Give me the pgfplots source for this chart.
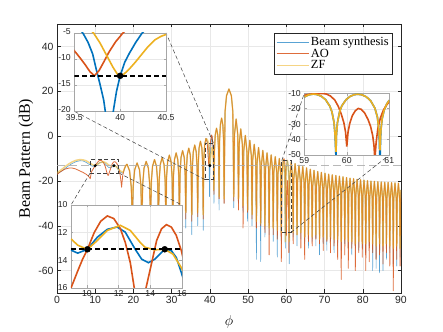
\documentclass[border=0pt]{standalone}
\usepackage{fontspec}
\setmainfont{Liberation Serif}
\setsansfont{Liberation Sans}
\usepackage{pgfplots}
\usepackage{pgfplotstable}
\pgfplotsset{compat=1.18}

\definecolor{mblue}{rgb}{0,0.447,0.741}
\definecolor{mred}{rgb}{0.85,0.325,0.098}
\definecolor{myel}{rgb}{0.929,0.694,0.125}
\definecolor{frame}{gray}{0.15}

% beam pattern from 18.3 deg on: phi, beam synthesis, AO, ZF
\pgfplotstableread{
x b r z
18.30 -12.5 -12.5 -12.5
18.99 -15.5 -15.5 -15.5
19.42 -22.5 -22.5 -22.5
19.70 -42 -36 -34
19.95 -22 -22 -22
20.33 -15 -15 -15
20.95 -12 -12 -12
21.58 -15 -15 -15
21.95 -22 -22 -22
22.20 -45 -40 -37
22.43 -21.3 -21.3 -21.3
22.77 -14.3 -14.3 -14.3
23.335 -11.3 -11.3 -11.3
23.90 -14.3 -14.3 -14.3
24.24 -21.3 -21.3 -21.3
24.47 -38 -44 -35
24.68 -20.5 -20.5 -20.5
24.99 -13.5 -13.5 -13.5
25.51 -10.5 -10.5 -10.5
26.03 -13.5 -13.5 -13.5
26.34 -20.5 -20.5 -20.5
26.55 -47 -38 -36
26.74 -19.6 -19.6 -19.6
27.03 -12.6 -12.6 -12.6
27.515 -9.6 -9.6 -9.6
28.00 -12.6 -12.6 -12.6
28.29 -19.6 -19.6 -19.6
28.48 -40 -46 -35
28.66 -18.5 -18.5 -18.5
28.94 -11.5 -11.5 -11.5
29.395 -8.5 -8.5 -8.5
29.85 -11.5 -11.5 -11.5
30.13 -18.5 -18.5 -18.5
30.31 -44 -39 -37
30.48 -17.5 -17.5 -17.5
30.74 -10.5 -10.5 -10.5
31.17 -7.5 -7.5 -7.5
31.60 -10.5 -10.5 -10.5
31.86 -17.5 -17.5 -17.5
32.03 -39 -42 -34
32.20 -16.5 -16.5 -16.5
32.45 -9.5 -9.5 -9.5
32.86 -6.5 -6.5 -6.5
33.28 -9.5 -9.5 -9.5
33.52 -16.5 -16.5 -16.5
33.69 -41 -37 -34
33.85 -15.4 -15.4 -15.4
34.08 -8.4 -8.4 -8.4
34.475 -5.4 -5.4 -5.4
34.87 -8.4 -8.4 -8.4
35.10 -15.4 -15.4 -15.4
35.26 -44 -38 -35
35.42 -14 -14 -14
35.65 -7 -7 -7
36.035 -4 -4 -4
36.42 -7 -7 -7
36.65 -14 -14 -14
36.81 -40 -36 -34
36.96 -12.3 -12.3 -12.3
37.17 -5.3 -5.3 -5.3
37.535 -2.3 -2.3 -2.3
37.90 -5.3 -5.3 -5.3
38.11 -12.3 -12.3 -12.3
38.26 -42 -37 -35
38.40 -11 -11 -11
38.62 -4 -4 -4
38.98 -1 -1 -1.2
39.30 -2.2 -3.0 -1.5
39.50 -3.5 -8.4 -2.5
39.60 -5.0 -10.3 -3.3
39.72 -10.0 -13.2 -5.3
39.78 -13.2 -12.3 -6.8
39.86 -20 -10.0 -9.6
39.89 -27 -9.2 -10.5
39.92 -20 -8.3 -11.5
40.00 -13.2 -5.0 -13.2
40.10 -8.8 -3.2 -11.6
40.25 -5.0 -1.5 -8.6
40.45 0.3 0.5 -5.6
40.60 -0.5 -0.3 -5.0
40.80 -4 -4 -7.5
40.95 -11 -11 -13
41.06 -30 -26 -24
41.195 -6.5 -6.5 -6.5
41.40 0.5 0.5 0.5
41.735 3.5 3.5 3.5
42.07 0.5 0.5 0.5
42.275 -6.5 -6.5 -6.5
42.41 -33 -28 -27
42.54 -2 -2 -2
42.74 5 5 5
43.065 8 8 8
43.39 5 5 5
43.59 -2 -2 -2
43.72 -30 -30 -28
43.97 11 11 11
44.35 18 18 18
44.985 21 21 21
45.62 18 18 18
46.00 11 11 11
46.25 -32 -29 -27
46.43 0.6 0.6 0.6
46.865 7.6 7.6 7.6
47.30 0.6 0.6 0.6
47.48 -30 -33 -28
47.66 -3.8 -3.8 -3.8
48.08 3.2 3.2 3.2
48.50 -3.8 -3.8 -3.8
48.68 -34 -41 -31
48.86 -6.7 -6.7 -6.7
49.27 0.3 0.3 0.3
49.68 -6.7 -6.7 -6.7
49.86 -38 -34 -33
50.04 -8.9 -8.9 -8.9
50.445 -1.9 -1.9 -1.9
50.85 -8.9 -8.9 -8.9
51.03 -40 -37 -35
51.20 -10.7 -10.7 -10.7
51.60 -3.7 -3.7 -3.7
52.00 -10.7 -10.7 -10.7
52.17 -55 -41 -38
52.34 -12.1 -12.1 -12.1
52.73 -5.1 -5.1 -5.1
53.12 -12.1 -12.1 -12.1
53.29 -56 -40 -39
53.46 -13.4 -13.4 -13.4
53.845 -6.4 -6.4 -6.4
54.23 -13.4 -13.4 -13.4
54.40 -45 -43 -40
54.565 -14.5 -14.5 -14.5
54.95 -7.5 -7.5 -7.5
55.335 -14.5 -14.5 -14.5
55.50 -44 -53 -41
55.66 -15.4 -15.4 -15.4
56.035 -8.4 -8.4 -8.4
56.41 -15.4 -15.4 -15.4
56.57 -47 -44 -41
56.73 -16.2 -16.2 -16.2
57.105 -9.2 -9.2 -9.2
57.48 -16.2 -16.2 -16.2
57.64 -54 -46 -42
57.80 -17 -17 -17
58.165 -10 -10 -10
58.53 -17 -17 -17
58.69 -48 -56 -43
58.85 -17.5 -17.5 -17.5
59.20 -10.6 -10.4 -10.6
59.42 -12.2 -10.1 -12.2
59.58 -17.8 -11.4 -17.8
59.74 -50 -14.5 -47
59.90 -17.5 -24 -17.5
60.00 -14.2 -44.5 -14.2
60.26 -10.8 -19.8 -10.8
60.50 -13.2 -27 -13.2
60.62 -17.5 -38 -17.5
60.66 -19.6 -52 -19.6
60.77 -57 -24.5 -47
60.92 -18.5 -18 -18.5
61.28 -11.5 -11.5 -11.5
61.64 -18.5 -18.5 -18.5
61.79 -45 -48 -43
61.94 -19.3 -19.3 -19.3
62.295 -12.3 -12.3 -12.3
62.65 -19.3 -19.3 -19.3
62.80 -49 -44 -44
62.95 -20 -20 -20
63.30 -13 -13 -13
63.65 -20 -20 -20
63.80 -46 -50 -43
63.95 -20.6 -20.6 -20.6
64.30 -13.6 -13.6 -13.6
64.65 -20.6 -20.6 -20.6
64.80 -48 -55 -45
64.95 -21.2 -21.2 -21.2
65.29 -14.2 -14.2 -14.2
65.63 -21.2 -21.2 -21.2
65.78 -50 -47 -44
65.93 -21.8 -21.8 -21.8
66.27 -14.8 -14.8 -14.8
66.61 -21.8 -21.8 -21.8
66.76 -47 -49 -45
66.91 -22.3 -22.3 -22.3
67.245 -15.3 -15.3 -15.3
67.58 -22.3 -22.3 -22.3
67.73 -49 -46 -44
67.87 -22.8 -22.8 -22.8
68.21 -15.8 -15.8 -15.8
68.55 -22.8 -22.8 -22.8
68.69 -53 -48 -46
68.83 -23.2 -23.2 -23.2
69.17 -16.2 -16.2 -16.2
69.51 -23.2 -23.2 -23.2
69.65 -48 -51 -45
69.79 -23.6 -23.6 -23.6
70.125 -16.6 -16.6 -16.6
70.46 -23.6 -23.6 -23.6
70.60 -51 -47 -46
70.74 -24 -24 -24
71.075 -17 -17 -17
71.41 -24 -24 -24
71.55 -47 -52 -45
71.69 -24.3 -24.3 -24.3
72.02 -17.3 -17.3 -17.3
72.35 -24.3 -24.3 -24.3
72.49 -52 -49 -46
72.63 -24.6 -24.6 -24.6
72.96 -17.6 -17.6 -17.6
73.29 -24.6 -24.6 -24.6
73.43 -49 -55 -46
73.57 -24.9 -24.9 -24.9
73.895 -17.9 -17.9 -17.9
74.22 -24.9 -24.9 -24.9
74.36 -51 -64 -47
74.50 -25.2 -25.2 -25.2
74.825 -18.2 -18.2 -18.2
75.15 -25.2 -25.2 -25.2
75.29 -48 -53 -46
75.43 -25.5 -25.5 -25.5
75.75 -18.5 -18.5 -18.5
76.07 -25.5 -25.5 -25.5
76.21 -50 -59 -47
76.35 -25.8 -25.8 -25.8
76.67 -18.8 -18.8 -18.8
76.99 -25.8 -25.8 -25.8
77.13 -53 -50 -47
77.27 -26 -26 -26
77.59 -19 -19 -19
77.91 -26 -26 -26
78.05 -50 -60 -48
78.19 -26.3 -26.3 -26.3
78.505 -19.3 -19.3 -19.3
78.82 -26.3 -26.3 -26.3
78.96 -51 -52 -47
79.10 -26.5 -26.5 -26.5
79.415 -19.5 -19.5 -19.5
79.73 -26.5 -26.5 -26.5
79.87 -50 -54 -48
80.01 -26.7 -26.7 -26.7
80.325 -19.7 -19.7 -19.7
80.64 -26.7 -26.7 -26.7
80.78 -52 -60 -48
80.92 -26.9 -26.9 -26.9
81.235 -19.9 -19.9 -19.9
81.55 -26.9 -26.9 -26.9
81.69 -49 -56 -47
81.83 -27.1 -27.1 -27.1
82.14 -20.1 -20.1 -20.1
82.45 -27.1 -27.1 -27.1
82.59 -60 -52 -48
82.73 -27.2 -27.2 -27.2
83.04 -20.2 -20.2 -20.2
83.35 -27.2 -27.2 -27.2
83.49 -59 -55 -49
83.63 -27.4 -27.4 -27.4
83.94 -20.4 -20.4 -20.4
84.25 -27.4 -27.4 -27.4
84.39 -61 -53 -48
84.53 -27.5 -27.5 -27.5
84.84 -20.5 -20.5 -20.5
85.15 -27.5 -27.5 -27.5
85.29 -60 -57 -49
85.43 -27.6 -27.6 -27.6
85.74 -20.6 -20.6 -20.6
86.05 -27.6 -27.6 -27.6
86.19 -55 -52 -48
86.32 -27.7 -27.7 -27.7
86.635 -20.7 -20.7 -20.7
86.95 -27.7 -27.7 -27.7
87.08 -52 -58 -49
87.21 -27.8 -27.8 -27.8
87.53 -20.8 -20.8 -20.8
87.85 -27.8 -27.8 -27.8
87.98 -57 -69 -50
88.11 -27.9 -27.9 -27.9
88.43 -20.9 -20.9 -20.9
88.75 -27.9 -27.9 -27.9
88.88 -58 -55 -49
89.01 -28 -28 -28
89.325 -21 -21 -21
89.64 -28 -28 -28
89.77 -54 -58 -50
89.90 -28.2 -28.2 -28.2
90.00 -24 -24 -24
}\pattern

\tikzset{
  zoombox/.style={black!75, line width=0.5pt, dash pattern=on 4bp off 2.5bp},
  bs/.style={mblue, line width=0.6bp, opacity=0.65, line join=round},
  ao/.style={mred, line width=0.8bp, opacity=0.85, line join=round},
  zf/.style={myel, line width=1.5bp, opacity=0.55, line join=round},
  ib/.style={mblue, line width=1.6bp},
  ir/.style={mred, line width=1.6bp},
  iz/.style={myel, line width=1.6bp},
  lvl/.style={black, line width=1.6bp, dash pattern=on 5bp off 3bp},
}

\pgfplotsset{
  matlab/.style={
    scale only axis,
    axis background/.style={fill=white},
    grid=major,
    grid style={gray!18, line width=0.4pt},
    axis line style={frame, line width=0.5pt},
    tick style={frame, line width=0.5pt},
    tick align=inside,
    /pgf/number format/assume math mode=true,
    tick label style={font=\sffamily\fontsize{10.5}{12}\selectfont, text=frame},
  },
  inset/.style={
    matlab,
    axis line style={gray!70, line width=0.6pt},
    tick style={gray!70},
    major tick length=2.5bp,
    tick label style={font=\sffamily\fontsize{8.7}{10}\selectfont, text=frame},
    xticklabel style={yshift=1bp},
  },
  dot/.style={only marks, mark=*, mark size=3bp, black},
}

\begin{document}
\begin{tikzpicture}
\path[use as bounding box] (-57bp,-39bp) rectangle (386bp,293bp);

\begin{axis}[
  matlab,
  at={(0bp,0bp)}, anchor=south west,
  width=344bp, height=269bp,
  xmin=0, xmax=90, ymin=-70, ymax=50,
  xtick={0,10,...,90},
  ytick={-60,-40,...,40},
  major tick length=3.5bp,
  xlabel={$\phi$},
  ylabel={Beam Pattern (dB)},
  xlabel style={font=\fontsize{15}{17}\selectfont, at={(axis description cs:0.5,-0.108)}, anchor=center},
  ylabel style={font=\fontsize{16}{18}\selectfont, at={(axis description cs:-0.09,0.5)}, anchor=center},
  legend style={at={(rel axis cs:0.974,0.9665)}, anchor=north east,
    draw=frame, line width=0.5pt, fill=white,
    font=\fontsize{12.5}{14}\selectfont,
    inner xsep=1.5bp, inner ysep=2bp, row sep=-1bp,
    nodes={inner sep=1.5bp}},
  legend cell align=left,
  legend image code/.code={\draw[#1, line cap=butt] (0bp,0bp) -- (32bp,0bp);},
]
\addplot[bs] table[x=x, y=b] {\pattern};
\addlegendentry{Beam synthesis}
\addplot[ao] table[x=x, y=r] {\pattern};
\addlegendentry{AO}
\addplot[zf] table[x=x, y=z] {\pattern};
\addlegendentry{ZF}

% wide lobes below 18.3 deg
\addplot[bs, forget plot] coordinates {
  (0,-16.8) (1,-15.9) (2,-14.6) (3,-13.3) (4,-12.2) (5,-11.4) (6,-11.0)
  (6.8,-11.1) (7.6,-11.7) (8.3,-12.5) (9,-13.25) (9.42,-13.48) (10.04,-13.2)
  (10.66,-12.33) (11.29,-11.76) (11.91,-11.59) (12.42,-11.96) (13.05,-13.2)
  (13.46,-13.92) (13.88,-14.17) (14.29,-13.92) (14.91,-13.2) (15.33,-13.3)
  (15.64,-13.8) (15.96,-14.9) (16.4,-15.8) (16.9,-16.4) (17.3,-16.6)
  (17.6,-15.0) (17.9,-13.6) (18.3,-12.5)};
\addplot[ao, forget plot] coordinates {
  (0,-17.1) (1,-15.8) (2,-14.8) (3,-14.3) (3.8,-14.2) (4.8,-14.6) (5.8,-15.4)
  (6.8,-16.2) (7.6,-17.0) (8.2,-17.8) (8.7,-19.0) (9.0,-16.0) (9.42,-14.78)
  (9.73,-13.92) (10.04,-13.2) (10.46,-12.0) (10.87,-11.18) (11.29,-10.79)
  (11.7,-10.98) (12.11,-11.7) (12.42,-12.7) (12.74,-14.17) (12.99,-16.0)
  (13.2,-17.0) (13.37,-17.6) (13.55,-17.0) (13.73,-16.0) (14.09,-14.17)
  (14.4,-12.57) (14.71,-11.72) (15.02,-11.42) (15.33,-11.6) (15.64,-12.2)
  (15.96,-13.3) (16.3,-15.3) (16.6,-18.2) (16.9,-22.8) (17.2,-17.5)
  (17.6,-14.6) (18.0,-13.1) (18.3,-12.5)};
\addplot[zf, forget plot] coordinates {
  (0,-16.4) (1,-15.2) (2,-13.8) (3,-12.5) (4,-11.5) (5,-10.8) (6,-10.5)
  (6.8,-10.6) (7.6,-11.0) (8.3,-11.7) (9.0,-12.45) (9.42,-12.9) (9.73,-13.06)
  (10.04,-13.2) (10.66,-12.57) (11.29,-11.84) (12.11,-11.47) (12.74,-11.84)
  (13.36,-12.7) (13.67,-13.06) (14.29,-13.24) (14.91,-13.2) (15.43,-13.55)
  (15.96,-14.53) (16.4,-15.3) (16.9,-15.9) (17.3,-16.1) (17.6,-14.8)
  (17.9,-13.5) (18.3,-12.5)};

% constraint level and points
\addplot[forget plot, gray!65, opacity=0.85, line width=1.5bp, dash pattern=on 8bp off 4bp]
  coordinates {(0,-13.2) (90,-13.2)};
\addplot[forget plot, only marks, mark=*, mark size=1.3bp, black]
  coordinates {(10,-13.2) (14.9,-13.2) (40,-13.2)};

% zoomed regions
\addplot[forget plot, zoombox] coordinates {(8.7,-16.4) (16.1,-16.4) (16.1,-10.5) (8.7,-10.5) (8.7,-16.4)};
\addplot[forget plot, zoombox] coordinates {(38.7,-19.4) (40.9,-19.4) (40.9,-3) (38.7,-3) (38.7,-19.4)};
\addplot[forget plot, zoombox] coordinates {(58.8,-43) (61.2,-43) (61.2,-11) (58.8,-11) (58.8,-43)};

\coordinate (r1bl) at (axis cs:38.7,-19.4);
\coordinate (r1tr) at (axis cs:40.9,-3);
\coordinate (r2bl) at (axis cs:8.7,-16.4);
\coordinate (r2br) at (axis cs:16.1,-16.4);
\coordinate (r3tl) at (axis cs:58.8,-11);
\coordinate (r3br) at (axis cs:61.2,-43);
\end{axis}

% connectors
\draw[zoombox] (r1tr) -- (109bp,260bp);
\draw[zoombox] (r1bl) -- (17.3bp,181.7bp);
\draw[zoombox] (r2bl) -- (14bp,88bp);
\draw[zoombox] (r2br) -- (125bp,88bp);
\draw[zoombox] (r3tl) -- (247.3bp,199.7bp);
\draw[zoombox] (r3br) -- (332.3bp,138bp);

% inset around 40 deg
\begin{axis}[
  inset,
  at={(17.3bp,181.7bp)}, anchor=south west,
  width=91.7bp, height=78.3bp,
  xmin=39.5, xmax=40.5, ymin=-20, ymax=-5,
  xtick={39.5,40,40.5}, ytick={-20,-15,-10,-5},
  xticklabel style={yshift=-0.5bp},
  yticklabel style={yshift=1.5bp},
]
\addplot[ib] coordinates {
  (39.5,-3.0) (39.55,-4.0) (39.6,-5.2) (39.65,-6.8) (39.7,-9.0) (39.74,-12.0)
  (39.78,-14.8) (39.82,-17.8) (39.85,-21.5) (39.87,-26) (39.885,-35) (39.9,-27)
  (39.925,-20) (39.96,-16.2) (40.0,-13.2) (40.05,-10.6) (40.1,-8.9) (40.17,-6.8)
  (40.24,-5.0) (40.32,-3.6)};
\addplot[ir] coordinates {
  (39.45,-7.2) (39.5,-8.4) (39.56,-9.7) (39.62,-11.1) (39.67,-12.4) (39.72,-13.2)
  (39.77,-12.2) (39.82,-10.6) (39.88,-8.6) (39.95,-6.7) (40.03,-5.0) (40.1,-3.8)};
\addplot[iz] coordinates {
  (39.65,-3.9) (39.71,-5.0) (39.78,-6.9) (39.85,-9.2) (39.92,-11.5) (39.97,-12.9)
  (40.0,-13.2) (40.04,-12.9) (40.1,-11.9) (40.17,-10.5) (40.23,-9.2) (40.3,-7.7)
  (40.38,-6.3) (40.45,-5.6) (40.5,-5.3) (40.55,-5.2)};
\addplot[lvl] coordinates {(39.5,-13.2) (40.5,-13.2)};
\addplot[dot] coordinates {(40,-13.2)};
\end{axis}

% inset over 9 to 16 deg
\begin{axis}[
  inset,
  at={(14bp,5bp)}, anchor=south west,
  width=111bp, height=83bp,
  xmin=9, xmax=16, ymin=-16, ymax=-10,
  xtick={10,12,14,16}, ytick={-16,-14,-12,-10},
  yticklabels={16,14,12,10},
]
\addplot[ib] coordinates {
  (9,-13.26) (9.42,-13.48) (10.04,-13.2) (10.66,-12.33) (11.29,-11.76)
  (11.91,-11.59) (12.42,-11.96) (13.05,-13.2) (13.46,-13.92) (13.88,-14.17)
  (14.29,-13.92) (14.91,-13.2) (15.33,-13.3) (15.64,-13.8) (15.96,-14.9) (16.1,-15.4)};
\addplot[ir] coordinates {
  (8.9,-16.8) (9.0,-16.0) (9.42,-14.78) (9.73,-13.92) (10.04,-13.2) (10.46,-12.0)
  (10.87,-11.18) (11.29,-10.79) (11.7,-10.98) (12.11,-11.7) (12.42,-12.7)
  (12.74,-14.17) (12.99,-16.0) (13.2,-17.0) (13.37,-17.6) (13.55,-17.0)
  (13.73,-16.0) (14.09,-14.17) (14.4,-12.57) (14.71,-11.72) (15.02,-11.42)
  (15.33,-11.6) (15.64,-12.2) (15.96,-13.3) (16.1,-14.0)};
\addplot[iz] coordinates {
  (9.0,-12.45) (9.42,-12.9) (9.73,-13.06) (10.04,-13.2) (10.66,-12.57)
  (11.29,-11.84) (12.11,-11.47) (12.74,-11.84) (13.36,-12.7) (13.67,-13.06)
  (14.29,-13.24) (14.91,-13.2) (15.43,-13.55) (15.96,-14.53) (16.1,-14.9)};
\addplot[lvl] coordinates {(9,-13.2) (16,-13.2)};
\addplot[dot] coordinates {(10.04,-13.2) (14.91,-13.2)};
\end{axis}

% inset around 60 deg
\begin{axis}[
  inset,
  at={(247.3bp,138bp)}, anchor=south west,
  width=85bp, height=61.7bp,
  xmin=59, xmax=61, ymin=-50, ymax=-10,
  xtick={59,60,61}, ytick={-50,-40,...,-10},
]
\addplot[ib] coordinates {
  (59.0,-12.4) (59.1,-11.0) (59.215,-10.5) (59.3,-10.8) (59.4,-11.9) (59.5,-14.1)
  (59.6,-18.3) (59.65,-22) (59.7,-29) (59.725,-37.5) (59.745,-52) (59.755,-37.5)
  (59.78,-29) (59.83,-22) (59.88,-18.3) (59.98,-14.2) (60.08,-11.95) (60.18,-10.86)
  (60.26,-10.6) (60.36,-11.0) (60.46,-12.3) (60.56,-14.8) (60.66,-19.6)
  (60.72,-25.4) (60.76,-35) (60.78,-56) (60.8,-34.6) (60.83,-26.7) (60.88,-20.8)
  (60.94,-16.9) (61.0,-14.5)};
\addplot[ir] coordinates {
  (59.0,-11.3) (59.1,-10.7) (59.2,-10.35) (59.3,-10.15) (59.42,-10.1) (59.52,-10.5)
  (59.62,-11.8) (59.72,-14.5) (59.8,-18.5) (59.87,-23.5) (59.93,-29) (59.97,-35)
  (60.0,-44.5) (60.03,-35) (60.07,-29.5) (60.13,-24.5) (60.2,-21.3) (60.27,-19.8)
  (60.34,-20.4) (60.42,-22.8) (60.5,-27) (60.56,-31.5) (60.61,-37.5) (60.64,-44)
  (60.66,-53) (60.69,-42) (60.73,-33) (60.79,-26) (60.86,-21) (60.93,-17.8)
  (61.0,-15.4)};
\addplot[iz] coordinates {
  (59.0,-12.4) (59.1,-11.0) (59.215,-10.5) (59.3,-10.8) (59.4,-11.9) (59.5,-14.1)
  (59.6,-18.3) (59.65,-22) (59.7,-29) (59.725,-37.5) (59.745,-48) (59.755,-37.5)
  (59.78,-29) (59.83,-22) (59.88,-18.3) (59.98,-14.2) (60.08,-11.95) (60.18,-10.86)
  (60.26,-10.6) (60.36,-11.0) (60.46,-12.3) (60.56,-14.8) (60.66,-19.6)
  (60.72,-25.4) (60.76,-35) (60.78,-47) (60.8,-34.6) (60.83,-26.7) (60.88,-20.8)
  (60.94,-16.9) (61.0,-14.5)};
\end{axis}
\end{tikzpicture}
\end{document}
